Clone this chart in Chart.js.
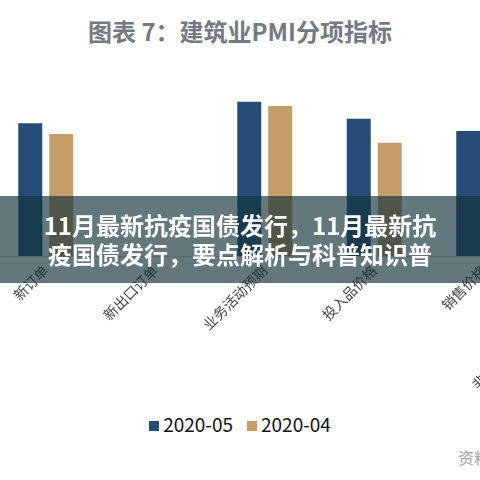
<!DOCTYPE html>
<html lang="zh-CN">
<head>
<meta charset="utf-8">
<title>建筑业PMI分项指标</title>
<script src="https://cdn.jsdelivr.net/npm/chart.js@4/dist/chart.umd.min.js"></script>
<style>
  html, body { margin: 0; padding: 0; background: #ffffff; }
  #page {
    position: relative; width: 480px; height: 480px; overflow: hidden;
    background: #ffffff; font-family: "Noto Sans CJK SC", "Noto Sans", sans-serif;
  }
  #title {
    position: absolute; left: 0; top: 14px; width: 480px; text-align: center;
    font-size: 24px; font-weight: 700; color: #737b81; line-height: 34px;
  }
  #plot {
    position: absolute; left: -9px; top: 69px; width: 657px; height: 337px;
  }
  #legend {
    position: absolute; left: 0; top: 411px; width: 480px; text-align: center;
    font-size: 19px; color: #111; line-height: 26px; white-space: nowrap;
  }
  #legend .item { display: inline-block; margin: 0 7px; }
  #legend .sw { display: inline-block; width: 10px; height: 10px; margin-right: 4px; vertical-align: 1px; }
  #banner {
    position: absolute; left: 0; top: 196px; width: 480px; height: 87px;
    background: rgba(18, 50, 57, 0.66); color: #ffffff; text-align: center;
    font-size: 24px; font-weight: 700; line-height: 29px;
    box-sizing: border-box; padding-top: 14px; white-space: nowrap;
  }
  #source {
    position: absolute; left: 458px; top: 446px; font-size: 16px; color: #a4a4a4;
    white-space: nowrap; line-height: 22px;
  }
</style>
</head>
<body>
<div id="page">
  <div id="title">图表 7：建筑业PMI分项指标</div>
  <div id="plot"><canvas id="chart"></canvas></div>
  <div id="legend"></div>
  <div id="banner">11月最新抗疫国债发行，11月最新抗<br>疫国债发行，要点解析与科普知识普</div>
  <div id="source">资料来源</div>
</div>
<script>
// Sub-index categories (the last one runs past the right edge)
const categories = ['新订单', '新出口订单', '业务活动预期', '投入品价格', '销售价格', '非制造业商务活动预期指数'];
// Series names
const seriesNames = ['2020-05', '2020-04'];
// Index values, in %
const may2020 = [56.8, null, 66.0, 58.7, 53.5, null];
const apr2020 = [52.2, null, 64.2, 48.5, 51.0, null];
const seriesColors = ['#264d78', '#c49d68'];

// Legend built from the same series names and colours
const legendEl = document.getElementById('legend');
seriesNames.forEach((name, i) => {
  const item = document.createElement('span');
  item.className = 'item';
  const sw = document.createElement('span');
  sw.className = 'sw';
  sw.style.background = seriesColors[i];
  item.appendChild(sw);
  item.appendChild(document.createTextNode(name));
  legendEl.appendChild(item);
});

new Chart(document.getElementById('chart'), {
  type: 'bar',
  data: {
    labels: categories,
    datasets: [
      { label: seriesNames[0], data: may2020, backgroundColor: seriesColors[0] },
      { label: seriesNames[1], data: apr2020, backgroundColor: seriesColors[1] }
    ]
  },
  options: {
    responsive: true,
    maintainAspectRatio: false,
    animation: false,
    categoryPercentage: 0.566,
    barPercentage: 0.774,
    layout: { padding: 0 },
    plugins: {
      legend: { display: false },
      title: { display: false },
      tooltip: { enabled: false }
    },
    scales: {
      x: {
        grid: { display: false, drawTicks: false },
        border: { display: true, color: '#d6d6d6' },
        ticks: {
          autoSkip: false,
          maxRotation: 45,
          minRotation: 45,
          padding: 6,
          color: '#444444',
          font: { family: '"Noto Sans CJK SC", sans-serif', size: 14 }
        },
        afterFit: (scale) => { scale.height = 150; }
      },
      y: {
        display: false,
        min: 0,
        max: 80
      }
    }
  }
});
</script>
</body>
</html>
